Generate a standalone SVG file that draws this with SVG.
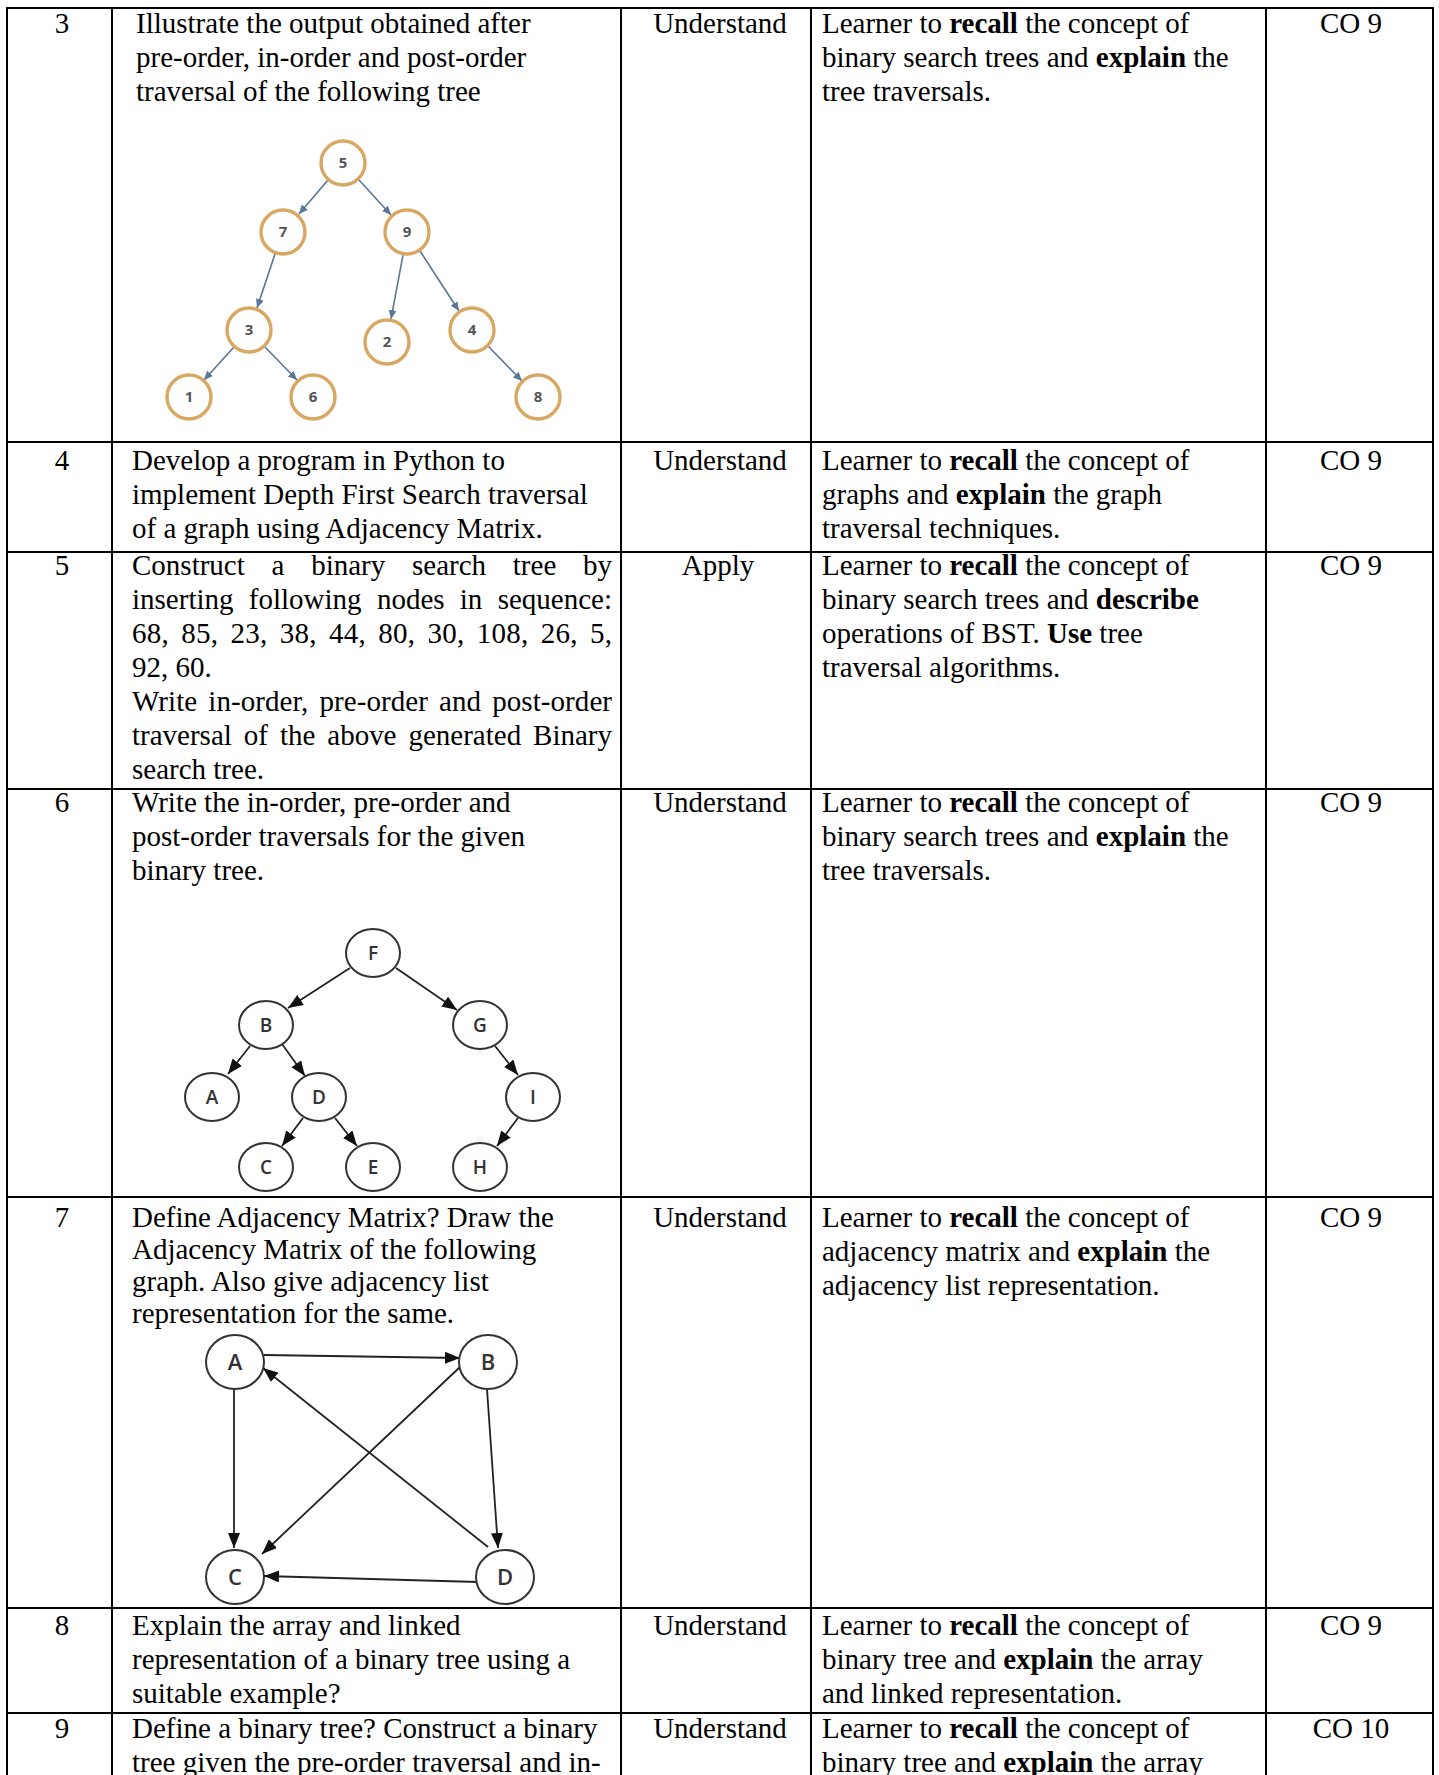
<svg xmlns="http://www.w3.org/2000/svg" width="1439" height="1775" viewBox="0 0 1439 1775">
<style>
.t{font-family:"Liberation Serif","Times New Roman",serif;font-size:29px;fill:#000}
.c{text-anchor:middle}
.b{font-weight:bold}
.grid line{stroke:#000;stroke-width:2}
.n1 circle{fill:#fff;stroke:#d8a862;stroke-width:3.4}
.n1 text{font-family:"Open Sans","DejaVu Sans",sans-serif;font-size:15px;font-weight:bold;fill:#555;text-anchor:middle}
.n2 ellipse{fill:#fff;stroke:#333;stroke-width:2}
.n2 text{font-family:"Open Sans","DejaVu Sans",sans-serif;font-size:19px;font-weight:600;fill:#333;text-anchor:middle}
.n3 ellipse{fill:#fff;stroke:#333;stroke-width:2}
.n3 text{font-family:"Open Sans","DejaVu Sans",sans-serif;font-size:22px;font-weight:600;fill:#333;text-anchor:middle}
.e1 line{stroke:#5b7595;stroke-width:1.6;marker-end:url(#a1)}
.e2 line{stroke:#222;stroke-width:1.8;marker-end:url(#a2)}
</style>
<defs>
<marker id="a1" markerUnits="userSpaceOnUse" markerWidth="10" markerHeight="8" refX="9" refY="4" orient="auto"><path d="M0,0 L9,4 L0,8 z" fill="#5b7595"/></marker>
<marker id="a2" markerUnits="userSpaceOnUse" markerWidth="16" markerHeight="12" refX="15" refY="6" orient="auto"><path d="M0,0 L15,6 L0,12 z" fill="#111"/></marker>
</defs>
<rect width="1439" height="1775" fill="#fff"/>
<g class="grid" id="table">
<line x1="7" y1="8" x2="1433" y2="8"/>
<line x1="7" y1="442" x2="1433" y2="442"/>
<line x1="7" y1="552" x2="1433" y2="552"/>
<line x1="7" y1="789" x2="1433" y2="789"/>
<line x1="7" y1="1197" x2="1433" y2="1197"/>
<line x1="7" y1="1608" x2="1433" y2="1608"/>
<line x1="7" y1="1713" x2="1433" y2="1713"/>
<line x1="7" y1="7" x2="7" y2="1775"/>
<line x1="112" y1="7" x2="112" y2="1775"/>
<line x1="621" y1="7" x2="621" y2="1775"/>
<line x1="811" y1="7" x2="811" y2="1775"/>
<line x1="1266" y1="7" x2="1266" y2="1775"/>
<line x1="1433" y1="7" x2="1433" y2="1775"/>
</g>
<g id="row3">
<text class="t c" x="62" y="33">3</text>
<text class="t" x="136" y="33">Illustrate the output obtained after</text>
<text class="t" x="136" y="67">pre-order, in-order and post-order</text>
<text class="t" x="136" y="101">traversal of the following tree</text>
<text class="t c" x="720" y="33">Understand</text>
<text class="t" x="822" y="33">Learner to <tspan class="b">recall</tspan> the concept of</text>
<text class="t" x="822" y="67">binary search trees and <tspan class="b">explain</tspan> the</text>
<text class="t" x="822" y="101">tree traversals.</text>
<text class="t c" x="1351" y="33">CO 9</text>
</g>
<g id="row4">
<text class="t c" x="62" y="470">4</text>
<text class="t" x="132" y="470">Develop a program in Python to</text>
<text class="t" x="132" y="504">implement Depth First Search traversal</text>
<text class="t" x="132" y="538">of a graph using Adjacency Matrix.</text>
<text class="t c" x="720" y="470">Understand</text>
<text class="t" x="822" y="470">Learner to <tspan class="b">recall</tspan> the concept of</text>
<text class="t" x="822" y="504">graphs and <tspan class="b">explain</tspan> the graph</text>
<text class="t" x="822" y="538">traversal techniques.</text>
<text class="t c" x="1351" y="470">CO 9</text>
</g>
<g id="row5">
<text class="t c" x="62" y="575">5</text>
<text class="t" x="132" y="575" word-spacing="19.5" textLength="480" lengthAdjust="spacing">Construct a binary search tree by</text>
<text class="t" x="132" y="609" word-spacing="8" textLength="480" lengthAdjust="spacing">inserting following nodes in sequence:</text>
<text class="t" x="132" y="643" word-spacing="4.5" textLength="480" lengthAdjust="spacing">68, 85, 23, 38, 44, 80, 30, 108, 26, 5,</text>
<text class="t" x="132" y="677">92, 60.</text>
<text class="t" x="132" y="711" word-spacing="3.8" textLength="480" lengthAdjust="spacing">Write in-order, pre-order and post-order</text>
<text class="t" x="132" y="745" word-spacing="4.7" textLength="480" lengthAdjust="spacing">traversal of the above generated Binary</text>
<text class="t" x="132" y="779">search tree.</text>
<text class="t c" x="718" y="575">Apply</text>
<text class="t" x="822" y="575">Learner to <tspan class="b">recall</tspan> the concept of</text>
<text class="t" x="822" y="609">binary search trees and <tspan class="b">describe</tspan></text>
<text class="t" x="822" y="643">operations of BST. <tspan class="b">Use</tspan> tree</text>
<text class="t" x="822" y="677">traversal algorithms.</text>
<text class="t c" x="1351" y="575">CO 9</text>
</g>
<g id="row6">
<text class="t c" x="62" y="812">6</text>
<text class="t" x="132" y="812">Write the in-order, pre-order and</text>
<text class="t" x="132" y="846">post-order traversals for the given</text>
<text class="t" x="132" y="880">binary tree.</text>
<text class="t c" x="720" y="812">Understand</text>
<text class="t" x="822" y="812">Learner to <tspan class="b">recall</tspan> the concept of</text>
<text class="t" x="822" y="846">binary search trees and <tspan class="b">explain</tspan> the</text>
<text class="t" x="822" y="880">tree traversals.</text>
<text class="t c" x="1351" y="812">CO 9</text>
</g>
<g id="row7">
<text class="t c" x="62" y="1227">7</text>
<text class="t" x="132" y="1227">Define Adjacency Matrix? Draw the</text>
<text class="t" x="132" y="1259">Adjacency Matrix of the following</text>
<text class="t" x="132" y="1291">graph. Also give adjacency list</text>
<text class="t" x="132" y="1323">representation for the same.</text>
<text class="t c" x="720" y="1227">Understand</text>
<text class="t" x="822" y="1227">Learner to <tspan class="b">recall</tspan> the concept of</text>
<text class="t" x="822" y="1261">adjacency matrix and <tspan class="b">explain</tspan> the</text>
<text class="t" x="822" y="1295">adjacency list representation.</text>
<text class="t c" x="1351" y="1227">CO 9</text>
</g>
<g id="row8">
<text class="t c" x="62" y="1635">8</text>
<text class="t" x="132" y="1635">Explain the array and linked</text>
<text class="t" x="132" y="1669">representation of a binary tree using a</text>
<text class="t" x="132" y="1703">suitable example?</text>
<text class="t c" x="720" y="1635">Understand</text>
<text class="t" x="822" y="1635">Learner to <tspan class="b">recall</tspan> the concept of</text>
<text class="t" x="822" y="1669">binary tree and <tspan class="b">explain</tspan> the array</text>
<text class="t" x="822" y="1703">and linked representation.</text>
<text class="t c" x="1351" y="1635">CO 9</text>
</g>
<g id="row9">
<text class="t c" x="62" y="1738">9</text>
<text class="t" x="132" y="1738">Define a binary tree? Construct a binary</text>
<text class="t" x="132" y="1772">tree given the pre-order traversal and in-</text>
<text class="t c" x="720" y="1738">Understand</text>
<text class="t" x="822" y="1738">Learner to <tspan class="b">recall</tspan> the concept of</text>
<text class="t" x="822" y="1772">binary tree and <tspan class="b">explain</tspan> the array</text>
<text class="t c" x="1351" y="1738">CO 10</text>
</g>
<g id="tree1-edges" class="e1">
<line x1="328" y1="180" x2="299" y2="214"/>
<line x1="359" y1="180" x2="391" y2="215"/>
<line x1="275" y1="254" x2="257" y2="308"/>
<line x1="403" y1="255" x2="391" y2="319"/>
<line x1="420" y1="251" x2="459" y2="311"/>
<line x1="234" y1="347" x2="204" y2="380"/>
<line x1="265" y1="347" x2="297" y2="380"/>
<line x1="488" y1="346" x2="522" y2="381"/>
</g>
<g class="n1">
<g id="t1-5"><circle cx="343" cy="163" r="22"/><text x="343" y="168">5</text></g>
<g id="t1-7"><circle cx="283" cy="232" r="22"/><text x="283" y="237">7</text></g>
<g id="t1-9"><circle cx="407" cy="232" r="22"/><text x="407" y="237">9</text></g>
<g id="t1-3"><circle cx="249" cy="330" r="22"/><text x="249" y="335">3</text></g>
<g id="t1-2"><circle cx="387" cy="342" r="22"/><text x="387" y="347">2</text></g>
<g id="t1-4"><circle cx="472" cy="330" r="22"/><text x="472" y="335">4</text></g>
<g id="t1-1"><circle cx="189" cy="397" r="22"/><text x="189" y="402">1</text></g>
<g id="t1-6"><circle cx="313" cy="397" r="22"/><text x="313" y="402">6</text></g>
<g id="t1-8"><circle cx="538" cy="397" r="22"/><text x="538" y="402">8</text></g>
</g>
<g id="tree2-edges" class="e2">
<line x1="350" y1="968" x2="288" y2="1008"/>
<line x1="396" y1="968" x2="457" y2="1010"/>
<line x1="250" y1="1046" x2="228" y2="1074"/>
<line x1="282" y1="1044" x2="305" y2="1076"/>
<line x1="495" y1="1046" x2="518" y2="1075"/>
<line x1="303" y1="1118" x2="282" y2="1146"/>
<line x1="335" y1="1118" x2="357" y2="1146"/>
<line x1="518" y1="1118" x2="497" y2="1146"/>
</g>
<g class="n2">
<g id="t2-F"><ellipse cx="373" cy="953" rx="27" ry="24"/><text x="373" y="960">F</text></g>
<g id="t2-B"><ellipse cx="266" cy="1025" rx="27" ry="24"/><text x="266" y="1032">B</text></g>
<g id="t2-G"><ellipse cx="480" cy="1025" rx="27" ry="24"/><text x="480" y="1032">G</text></g>
<g id="t2-A"><ellipse cx="212" cy="1097" rx="27" ry="24"/><text x="212" y="1104">A</text></g>
<g id="t2-D"><ellipse cx="319" cy="1097" rx="27" ry="24"/><text x="319" y="1104">D</text></g>
<g id="t2-I"><ellipse cx="533" cy="1097" rx="27" ry="24"/><text x="533" y="1104">I</text></g>
<g id="t2-C"><ellipse cx="266" cy="1167" rx="27" ry="24"/><text x="266" y="1174">C</text></g>
<g id="t2-E"><ellipse cx="373" cy="1167" rx="27" ry="24"/><text x="373" y="1174">E</text></g>
<g id="t2-H"><ellipse cx="480" cy="1167" rx="27" ry="24"/><text x="480" y="1174">H</text></g>
</g>
<g id="graph-edges" class="e2">
<line x1="264" y1="1355" x2="460" y2="1358"/>
<line x1="234" y1="1389" x2="234" y2="1548"/>
<line x1="487" y1="1389" x2="498" y2="1548"/>
<line x1="460" y1="1367" x2="262" y2="1554"/>
<line x1="488" y1="1547" x2="263" y2="1368"/>
<line x1="478" y1="1582" x2="264" y2="1576"/>
</g>
<g class="n3">
<g id="g-A"><ellipse cx="235" cy="1362" rx="29" ry="27"/><text x="235" y="1370">A</text></g>
<g id="g-B"><ellipse cx="488" cy="1362" rx="29" ry="27"/><text x="488" y="1370">B</text></g>
<g id="g-C"><ellipse cx="235" cy="1577" rx="29" ry="27"/><text x="235" y="1585">C</text></g>
<g id="g-D"><ellipse cx="505" cy="1577" rx="29" ry="27"/><text x="505" y="1585">D</text></g>
</g>
</svg>
